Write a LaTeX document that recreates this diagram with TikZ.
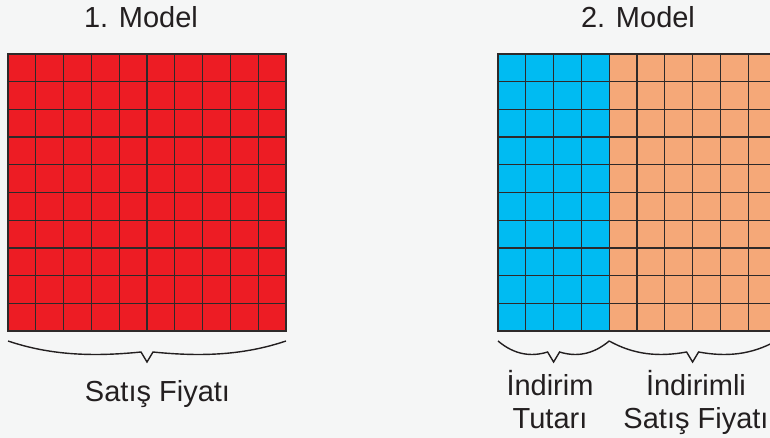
\documentclass[tikz,border=0pt]{standalone}
\usepackage{fontspec}
\setmainfont{Liberation Sans}
\usetikzlibrary{calc, positioning}
\definecolor{modelred}{HTML}{ED1C24}
\definecolor{modelblue}{HTML}{00BBF2}
\definecolor{modelorange}{HTML}{F5A878}
\definecolor{modelline}{HTML}{2E2A2A}
\definecolor{modelbg}{HTML}{F5F6F6}
\definecolor{modeltext}{HTML}{231F20}
\tikzset{
  cellbox/.style={draw=modelline, line width=1.2pt},
  bracestroke/.style={draw=modeltext, line width=1.4pt, line join=miter},
  labeltext/.style={font=\fontsize{29}{33}\selectfont, text=modeltext,
    inner sep=0pt, align=center}
}
% curly brace below a span, tip pointing down
\newcommand{\drawbrace}[2]{%
  \draw[bracestroke] (#1)
    .. controls ($(#1)!0.15!(#2) + (0,14)$) and ($(#1)!0.3!(#2) + (0,16)$)
    .. ($(#1)!0.5!(#2) + (-6,11)$)
    -- ($(#1)!0.5!(#2) + (0,21)$)
    -- ($(#1)!0.5!(#2) + (6,11)$)
    .. controls ($(#1)!0.7!(#2) + (0,16)$) and ($(#1)!0.85!(#2) + (0,14)$)
    .. (#2);}

\begin{document}
\begin{tikzpicture}[x=1pt, y=-1pt]
  \fill[modelbg] (0,0) rectangle (770,438);
  \useasboundingbox (0,0) rectangle (770,438);
  % titles
  \node[labeltext, anchor=base] (title one) at (141,28) {1. Model};
  \node[labeltext, anchor=base] (title two) at (638,28) {2. Model};
  % 1. Model: all red
  \foreach \c in {0,...,9}
    \foreach \r in {0,...,9}
      \draw[cellbox, fill=modelred] ({8+27.8*\c},{54+27.7*\r}) rectangle +(27.8,27.7);
  % 2. Model: four blue columns, the rest orange
  \foreach \c in {0,...,3}
    \foreach \r in {0,...,9}
      \draw[cellbox, fill=modelblue] ({498+27.8*\c},{54+27.7*\r}) rectangle +(27.8,27.7);
  \foreach \c in {4,...,9}
    \foreach \r in {0,...,9}
      \draw[cellbox, fill=modelorange] ({498+27.8*\c},{54+27.7*\r}) rectangle +(27.8,27.7);
  % brace ends
  \coordinate (one left) at (8,341);
  \coordinate (one right) at (286,341);
  \coordinate (two left) at (498,341);
  \coordinate (two split) at (609.2,341);
  \coordinate (two right) at (776,341);
  \drawbrace{one left}{one right}
  \drawbrace{two left}{two split}
  \drawbrace{two split}{two right}
  % labels
  \node[labeltext, anchor=base] (price) at (157.5,401) {Satış Fiyatı};
  \node[labeltext, anchor=base] (discount) at (550,428) {İndirim\\Tutarı};
  \node[labeltext, anchor=base] (discounted) at (696,428) {İndirimli\\Satış Fiyatı};
\end{tikzpicture}
\end{document}
